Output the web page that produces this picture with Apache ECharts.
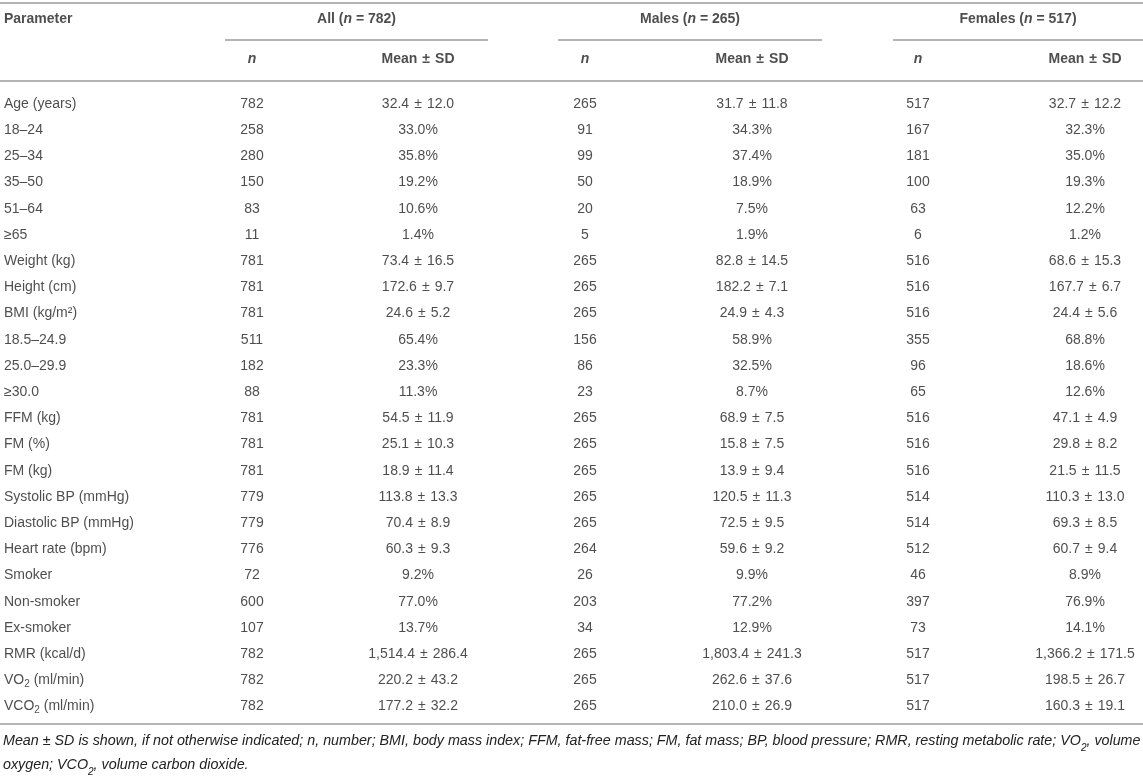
<!DOCTYPE html>
<html>
<head>
<meta charset="utf-8">
<script src="https://cdn.jsdelivr.net/npm/echarts@6/dist/echarts.min.js"></script>
<style>
  html, body { margin: 0; padding: 0; background: #fff; }
  #main { width: 1143px; height: 780px; }
</style>
</head>
<body>
<div id="main"></div>
<script>
// table rows
var params = ['Age (years)', '18–24', '25–34', '35–50', '51–64', '≥65', 'Weight (kg)', 'Height (cm)',
  'BMI (kg/m²)', '18.5–24.9', '25.0–29.9', '≥30.0', 'FFM (kg)', 'FM (%)', 'FM (kg)',
  'Systolic BP (mmHg)', 'Diastolic BP (mmHg)', 'Heart rate (bpm)', 'Smoker', 'Non-smoker',
  'Ex-smoker', 'RMR (kcal/d)', 'VO{sub|2} (ml/min)', 'VCO{sub|2} (ml/min)'];

var groups = ['All', 'Males', 'Females'];
var groupN = [782, 265, 517];

// sd == null -> percentage row
var allN = [782, 258, 280, 150, 83, 11, 781, 781, 781, 511, 182, 88, 781, 781, 781, 779, 779, 776, 72, 600, 107, 782, 782, 782];
var allMean = [32.4, 33.0, 35.8, 19.2, 10.6, 1.4, 73.4, 172.6, 24.6, 65.4, 23.3, 11.3, 54.5, 25.1, 18.9, 113.8, 70.4, 60.3, 9.2, 77.0, 13.7, 1514.4, 220.2, 177.2];
var allSd = [12.0, null, null, null, null, null, 16.5, 9.7, 5.2, null, null, null, 11.9, 10.3, 11.4, 13.3, 8.9, 9.3, null, null, null, 286.4, 43.2, 32.2];

var maleN = [265, 91, 99, 50, 20, 5, 265, 265, 265, 156, 86, 23, 265, 265, 265, 265, 265, 264, 26, 203, 34, 265, 265, 265];
var maleMean = [31.7, 34.3, 37.4, 18.9, 7.5, 1.9, 82.8, 182.2, 24.9, 58.9, 32.5, 8.7, 68.9, 15.8, 13.9, 120.5, 72.5, 59.6, 9.9, 77.2, 12.9, 1803.4, 262.6, 210.0];
var maleSd = [11.8, null, null, null, null, null, 14.5, 7.1, 4.3, null, null, null, 7.5, 7.5, 9.4, 11.3, 9.5, 9.2, null, null, null, 241.3, 37.6, 26.9];

var femN = [517, 167, 181, 100, 63, 6, 516, 516, 516, 355, 96, 65, 516, 516, 516, 514, 514, 512, 46, 397, 73, 517, 517, 517];
var femMean = [32.7, 32.3, 35.0, 19.3, 12.2, 1.2, 68.6, 167.7, 24.4, 68.8, 18.6, 12.6, 47.1, 29.8, 21.5, 110.3, 69.3, 60.7, 8.9, 76.9, 14.1, 1366.2, 198.5, 160.3];
var femSd = [12.2, null, null, null, null, null, 15.3, 6.7, 5.6, null, null, null, 4.9, 8.2, 11.5, 13.0, 8.5, 9.4, null, null, null, 171.5, 26.7, 19.1];

var footNote = 'Mean ± SD is shown, if not otherwise indicated; n, number; BMI, body mass index; FFM, fat-free mass; FM, fat mass; BP, blood pressure; RMR, resting metabolic rate; VO{s|2}, volume\noxygen; VCO{s|2}, volume carbon dioxide.';

// layout (x in px, y in row units)
var colX = [4, 252, 418, 585, 752, 918, 1085];
var spanX = [[225, 488], [558, 822], [893, 1143]];
var yTitle = -3.22, yHead = -1.7;
var yTop = -3.85, ySpan = -2.45, yHeadLine = -0.88, yBottom = 23.66;

var txt = '#222';
var ruleColor = '#b4b4b4';
var PM = ' \u200A±\u200A ';

function fmt(v) {
  return v.toLocaleString('en-US', { minimumFractionDigits: 1, maximumFractionDigits: 1 });
}
function meanText(m, s) {
  return s == null ? fmt(m) + '%' : fmt(m) + PM + fmt(s);
}

var cells = [];
function add(x, y, text, align, bold) {
  cells.push({ value: [x, y, text], align: align, bold: bold });
}

add(colX[0], yTitle, 'Parameter', 'left', true);
groups.forEach(function(g, i) {
  add((spanX[i][0] + spanX[i][1]) / 2, yTitle, g + ' ({bi|n} = ' + groupN[i] + ')', 'center', true);
  add(colX[1 + i * 2], yHead, '{bi|n}', 'center', true);
  add(colX[2 + i * 2], yHead, 'Mean' + PM + 'SD', 'center', true);
});

var nCols = [allN, maleN, femN];
var meanCols = [allMean, maleMean, femMean];
var sdCols = [allSd, maleSd, femSd];
params.forEach(function(p, r) {
  add(colX[0], r, p, 'left', false);
  for (var g = 0; g < 3; g++) {
    add(colX[1 + g * 2], r, String(nCols[g][r]), 'center', false);
    add(colX[2 + g * 2], r, meanText(meanCols[g][r], sdCols[g][r]), 'center', false);
  }
});

var rich = {
  sub: { fontSize: 10, lineHeight: 8, verticalAlign: 'bottom', color: txt, fontFamily: 'Liberation Sans' },
  bi: { fontStyle: 'italic', fontWeight: 'bold', fontSize: 14, lineHeight: 18, color: txt, fontFamily: 'Liberation Sans' }
};

var cellData = cells.map(function(c) {
  return {
    value: c.value,
    label: {
      align: c.align,
      fontWeight: c.bold ? 'bold' : 'normal'
    }
  };
});

var rules = [
  [[0, yTop], [1143, yTop]],
  [[spanX[0][0], ySpan], [spanX[0][1], ySpan]],
  [[spanX[1][0], ySpan], [spanX[1][1], ySpan]],
  [[spanX[2][0], ySpan], [spanX[2][1], ySpan]],
  [[0, yHeadLine], [1143, yHeadLine]],
  [[0, yBottom], [1143, yBottom]]
].map(function(c) { return { coords: c }; });

var chart = echarts.init(document.getElementById('main'));
chart.setOption({
  animation: false,
  backgroundColor: '#fff',
  title: {
    text: footNote,
    left: 3,
    top: 729,
    padding: 0,
    textStyle: {
      fontFamily: 'Liberation Sans',
      fontStyle: 'italic',
      fontWeight: 'normal',
      fontSize: 14.3,
      lineHeight: 24,
      color: txt,
      rich: {
        s: { fontSize: 10, lineHeight: 14, verticalAlign: 'bottom', fontStyle: 'italic', color: txt, fontFamily: 'Liberation Sans' }
      }
    }
  },
  grid: { left: 0, right: 0, top: 0, bottom: 0 },
  xAxis: { type: 'value', min: 0, max: 1143, show: false },
  yAxis: { type: 'value', min: -3.969, max: 25.8, inverse: true, show: false },
  series: [
    {
      type: 'lines',
      coordinateSystem: 'cartesian2d',
      silent: true,
      lineStyle: { color: ruleColor, width: 2, opacity: 1 },
      data: rules
    },
    {
      type: 'scatter',
      symbolSize: 0,
      silent: true,
      data: cellData,
      label: {
        show: true,
        position: 'inside',
        verticalAlign: 'middle',
        fontFamily: 'Liberation Sans',
        fontSize: 14,
        lineHeight: 18,
        color: txt,
        formatter: function(p) { return p.value[2]; },
        rich: rich
      }
    }
  ]
});
</script>
</body>
</html>
